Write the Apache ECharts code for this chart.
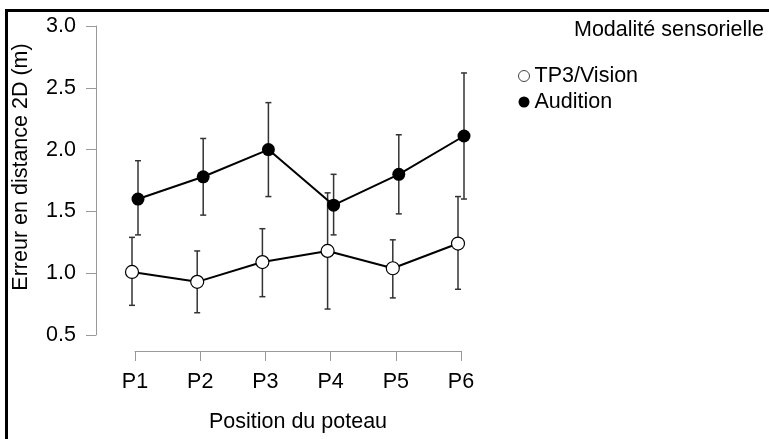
<!DOCTYPE html>
<html>
<head>
<meta charset="utf-8">
<script src="https://cdn.jsdelivr.net/npm/echarts@6/dist/echarts.min.js"></script>
<style>html,body{margin:0;padding:0;background:#fff;}#c{width:769px;height:439px;}</style>
</head>
<body>
<div id="c"></div>
<script>
const categories = ['P1', 'P2', 'P3', 'P4', 'P5', 'P6'];
const visionMean = [1.01, 0.93, 1.09, 1.18, 1.04, 1.24];
const visionLow = [0.74, 0.68, 0.81, 0.71, 0.80, 0.87];
const visionHigh = [1.29, 1.18, 1.36, 1.65, 1.27, 1.62];
const auditionMean = [1.60, 1.78, 2.00, 1.55, 1.80, 2.11];
const auditionLow = [1.31, 1.47, 1.62, 1.31, 1.48, 1.60];
const auditionHigh = [1.91, 2.09, 2.38, 1.80, 2.12, 2.62];
const yMin = 0.5, yMax = 3.0, yStep = 0.5;
const seriesNames = ['TP3/Vision', 'Audition'];
const legendTitle = 'Modalité sensorielle';
const xTitle = 'Position du poteau';
const yTitle = 'Erreur en distance 2D (m)';

const FONT = '"Liberation Sans", Arial, sans-serif';
const FS = 21.5;
const chart = echarts.init(document.getElementById('c'), null, {renderer: 'canvas'});

function errorBars(low, high, xi) {
  return {
    type: 'custom',
    xAxisIndex: xi, yAxisIndex: xi,
    z: 1,
    silent: true,
    data: categories.map((c, i) => [i, low[i], high[i]]),
    renderItem: function (params, api) {
      const x = api.value(0);
      const lo = api.coord([x, api.value(1)]);
      const hi = api.coord([x, api.value(2)]);
      const cap = 3;
      const st = {stroke: '#333', lineWidth: 1.5};
      return {
        type: 'group',
        children: [
          {type: 'line', shape: {x1: lo[0], y1: lo[1], x2: hi[0], y2: hi[1]}, style: st},
          {type: 'line', shape: {x1: lo[0] - cap, y1: lo[1], x2: lo[0] + cap, y2: lo[1]}, style: st},
          {type: 'line', shape: {x1: hi[0] - cap, y1: hi[1], x2: hi[0] + cap, y2: hi[1]}, style: st}
        ]
      };
    }
  };
}

const hiddenX = (gi) => ({type: 'category', data: categories, boundaryGap: false, gridIndex: gi, show: false});
const hiddenY = (gi) => ({type: 'value', min: yMin, max: yMax, interval: yStep, gridIndex: gi, show: false});

const option = {
  animation: false,
  textStyle: {fontFamily: FONT},
  grid: [
    {left: 135, right: 308, top: 26, bottom: 104},
    {left: 132, right: 311, top: 26, bottom: 104},
    {left: 138, right: 305, top: 26, bottom: 104}
  ],
  xAxis: [
    {
      type: 'category', data: categories, boundaryGap: false, gridIndex: 0, offset: 16,
      axisLine: {show: true, lineStyle: {color: '#999', width: 1}},
      axisTick: {show: true, length: 10, lineStyle: {color: '#999'}},
      axisLabel: {fontSize: FS, color: '#000', margin: 20, fontFamily: FONT},
      splitLine: {show: false},
      name: xTitle, nameLocation: 'middle', nameGap: 60,
      nameTextStyle: {fontSize: FS, color: '#000', fontFamily: FONT}
    },
    hiddenX(1), hiddenX(2)
  ],
  yAxis: [
    {
      type: 'value', min: yMin, max: yMax, interval: yStep, gridIndex: 0, offset: 39,
      axisLine: {show: true, lineStyle: {color: '#999', width: 1}},
      axisTick: {show: true, length: 10, lineStyle: {color: '#999'}},
      axisLabel: {fontSize: FS, color: '#000', margin: 20, fontFamily: FONT, formatter: v => v.toFixed(1)},
      splitLine: {show: false}
    },
    hiddenY(1), hiddenY(2)
  ],
  legend: {
    orient: 'vertical', left: 513, top: 60, itemWidth: 11, itemHeight: 11, itemGap: 4,
    textStyle: {fontSize: FS, color: '#000', fontFamily: FONT},
    data: [
      {name: seriesNames[0], icon: 'circle', itemStyle: {color: '#fff', borderColor: '#444', borderWidth: 1}},
      {name: seriesNames[1], icon: 'circle', itemStyle: {color: '#000', borderWidth: 0}}
    ]
  },
  graphic: [
    {type: 'line', shape: {x1: 5, y1: 10.5, x2: 769, y2: 10.5}, style: {stroke: '#000', lineWidth: 3}, silent: true},
    {type: 'line', shape: {x1: 6.5, y1: 9, x2: 6.5, y2: 439}, style: {stroke: '#000', lineWidth: 3}, silent: true},
    {type: 'text', right: 5, top: 19, style: {text: legendTitle, fontSize: FS, fill: '#000', fontFamily: FONT}},
    {type: 'text', x: 21, y: 167, rotation: Math.PI / 2,
     style: {text: yTitle, fontSize: FS, fill: '#000', fontFamily: FONT, align: 'center', verticalAlign: 'middle'}}
  ],
  series: [
    errorBars(visionLow, visionHigh, 1),
    errorBars(auditionLow, auditionHigh, 2),
    {
      name: seriesNames[0], type: 'line', xAxisIndex: 1, yAxisIndex: 1, z: 3,
      data: visionMean, symbol: 'circle', symbolSize: 13, showAllSymbol: true,
      itemStyle: {color: '#fff', borderColor: '#000', borderWidth: 1.2},
      lineStyle: {color: '#000', width: 2}
    },
    {
      name: seriesNames[1], type: 'line', xAxisIndex: 2, yAxisIndex: 2, z: 3,
      data: auditionMean, symbol: 'circle', symbolSize: 13, showAllSymbol: true,
      itemStyle: {color: '#000', borderColor: '#000', borderWidth: 0},
      lineStyle: {color: '#000', width: 2}
    }
  ]
};
chart.setOption(option);
</script>
</body>
</html>
